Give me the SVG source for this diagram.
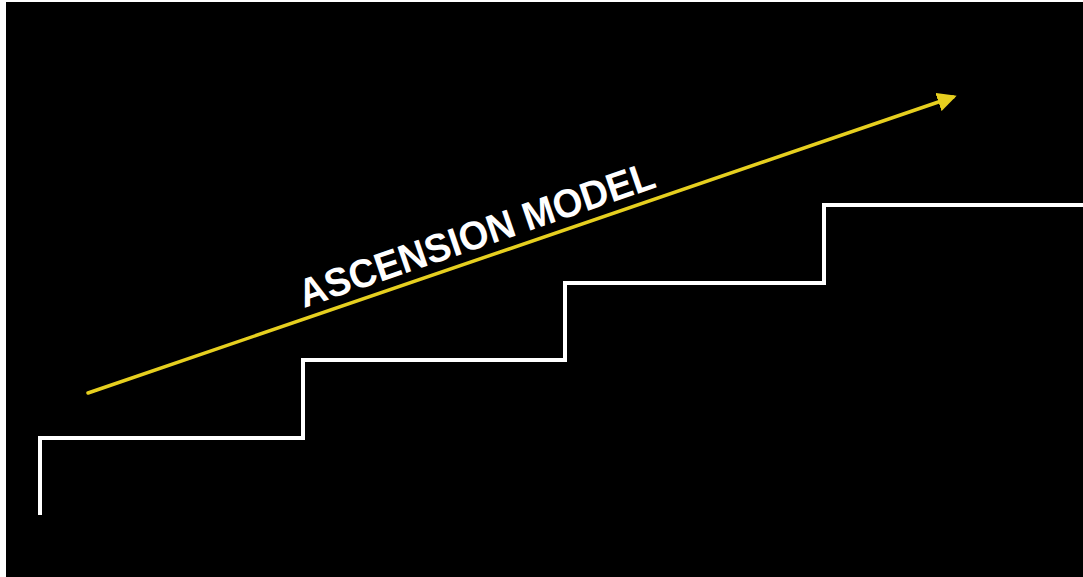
<svg xmlns="http://www.w3.org/2000/svg" width="1083" height="577" viewBox="0 0 1083 577">
  <defs>
    <style>
      .stairs { fill: none; stroke: #ffffff; stroke-width: 4; stroke-linejoin: miter; }
      .arrow { stroke: #e6cf1f; stroke-width: 3.5; fill: none; stroke-linecap: round; }
      .label { font-family: "Liberation Sans", Arial, sans-serif; font-weight: bold; font-size: 40px; fill: #ffffff; }
    </style>
    <marker id="head" viewBox="0 0 10 10" refX="8" refY="5" markerWidth="5.5" markerHeight="5.5" markerUnits="strokeWidth" orient="auto">
      <path d="M0,0 L10,5 L0,10 z" fill="#e6cf1f"/>
    </marker>
  </defs>
  <rect x="0" y="0" width="1083" height="577" fill="#ffffff"/>
  <rect x="6" y="2" width="1077" height="575" fill="#000000"/>
  <g id="stairs">
    <path class="stairs" d="M40,515 L40,438 L303,438 L303,360 L565,360 L565,283 L824,283 L824,205 L1083,205"/>
  </g>
  <g id="connectors">
    <line class="arrow" x1="88" y1="393" x2="953" y2="97" marker-end="url(#head)"/>
  </g>
  <g id="label">
    <text class="label" x="0" y="0" textLength="374" lengthAdjust="spacingAndGlyphs" transform="translate(304,308) rotate(-18.9)">ASCENSION MODEL</text>
  </g>
</svg>
